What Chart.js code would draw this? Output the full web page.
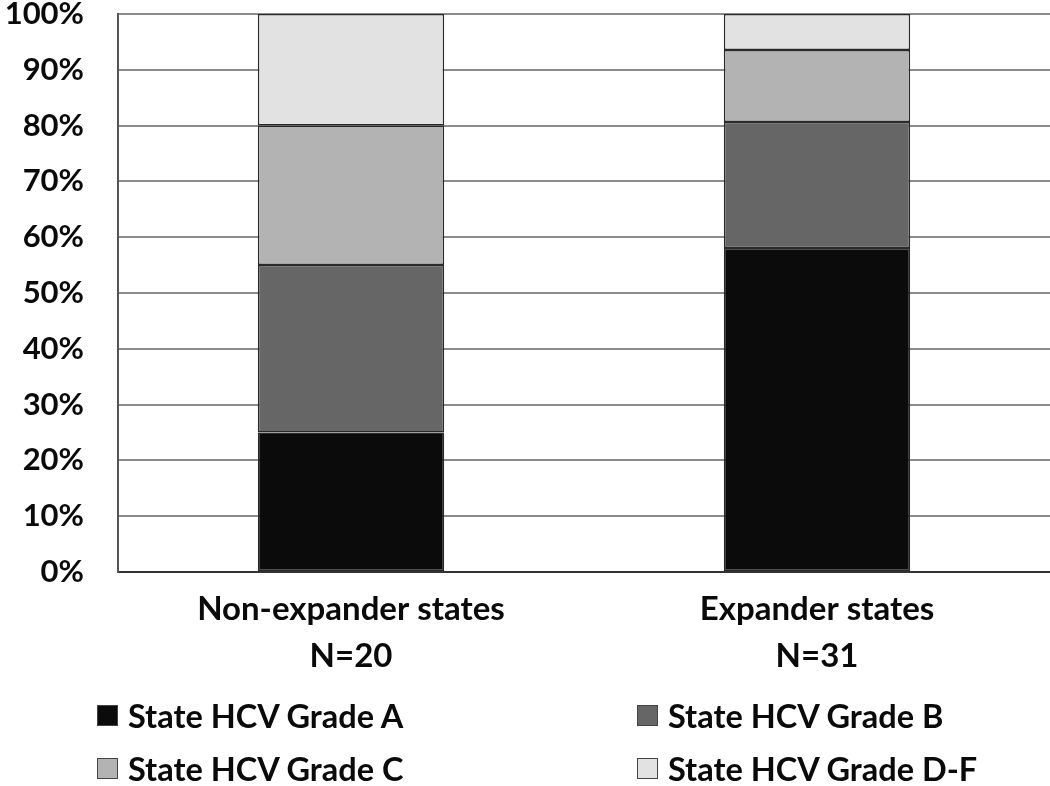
<!DOCTYPE html>
<html>
<head>
<meta charset="utf-8">
<script src="https://cdn.jsdelivr.net/npm/chart.js@4"></script>
<style>
    body { margin: 0; background: #fff; }
    #wrap { position: relative; width: 1050px; height: 786px; }
    #legend { position: absolute; left: 0; top: 0; width: 1050px; height: 786px; pointer-events: none;
        font-family: Lato, sans-serif; font-weight: bold; font-size: 32.5px; color: #0a0a0a; }
    .item { position: absolute; display: flex; align-items: center; white-space: nowrap; }
    .box { width: 19px; height: 19px; border: 1px solid #444; margin-right: 10px; }
</style>
</head>
<body>
<div id="wrap">
    <canvas id="myChart" width="1050" height="786"></canvas>
    <div id="legend"></div>
</div>
<script>
const categories = [['Non-expander states', 'N=20'], ['Expander states', 'N=31']];
const seriesNames = ['State HCV Grade A', 'State HCV Grade B', 'State HCV Grade C', 'State HCV Grade D-F'];
const gradeA = [25, 58.06];
const gradeB = [30, 22.58];
const gradeC = [25, 12.90];
const gradeDF = [20, 6.45];
const yTicks = [0, 10, 20, 30, 40, 50, 60, 70, 80, 90, 100];

const colors = ['#0b0b0b', '#666666', '#b3b3b3', '#e2e2e2'];
const seriesValues = [gradeA, gradeB, gradeC, gradeDF];

const ctx = document.getElementById('myChart');

new Chart(ctx, {
    type: 'bar',
    data: {
        labels: categories,
        datasets: seriesNames.map((name, i) => ({
            label: name,
            data: seriesValues[i],
            backgroundColor: colors[i],
            borderColor: '#2a2a2a',
            borderWidth: 1.5,
            borderSkipped: false,
            barPercentage: 0.4,
            categoryPercentage: 1
        }))
    },
    options: {
        responsive: false,
        animation: false,
        layout: { padding: { top: 14, right: 0, bottom: 104, left: 0 } },
        plugins: {
            legend: { display: false },
            tooltip: { enabled: false }
        },
        scales: {
            x: {
                stacked: true,
                grid: { display: false },
                border: { display: true, color: '#333', width: 2 },
                ticks: {
                    color: '#0a0a0a', padding: 6, maxRotation: 0,
                    font: { family: 'Lato', weight: 'bold', size: 33, lineHeight: 1.42 }
                },
                afterFit: (scale) => {
                    scale.height = 110;
                    scale.paddingLeft = 0;
                    scale.paddingRight = 0;
                }
            },
            y: {
                stacked: true,
                min: 0,
                max: 100,
                afterBuildTicks: (scale) => { scale.ticks = yTicks.map(v => ({ value: v })); },
                grid: { color: '#8c8c8c', lineWidth: 2, drawTicks: false },
                border: { display: true, color: '#555', width: 2 },
                ticks: {
                    color: '#0a0a0a', padding: 34,
                    font: { family: 'Lato', weight: 'bold', size: 31 },
                    callback: (v) => v + '%'
                },
                afterFit: (scale) => {
                    scale.width = 118;
                    scale.paddingTop = 0;
                    scale.paddingBottom = 0;
                }
            }
        }
    }
});

const legend = document.getElementById('legend');
const pos = [[97, 715], [637, 715], [97, 768], [637, 768]];
seriesNames.forEach((name, i) => {
    const el = document.createElement('div');
    el.className = 'item';
    el.style.left = pos[i][0] + 'px';
    el.style.top = (pos[i][1] - 20) + 'px';
    el.style.height = '40px';
    el.innerHTML = '<span class="box" style="background:' + colors[i] + '"></span>' + name;
    legend.appendChild(el);
});
</script>
</body>
</html>
